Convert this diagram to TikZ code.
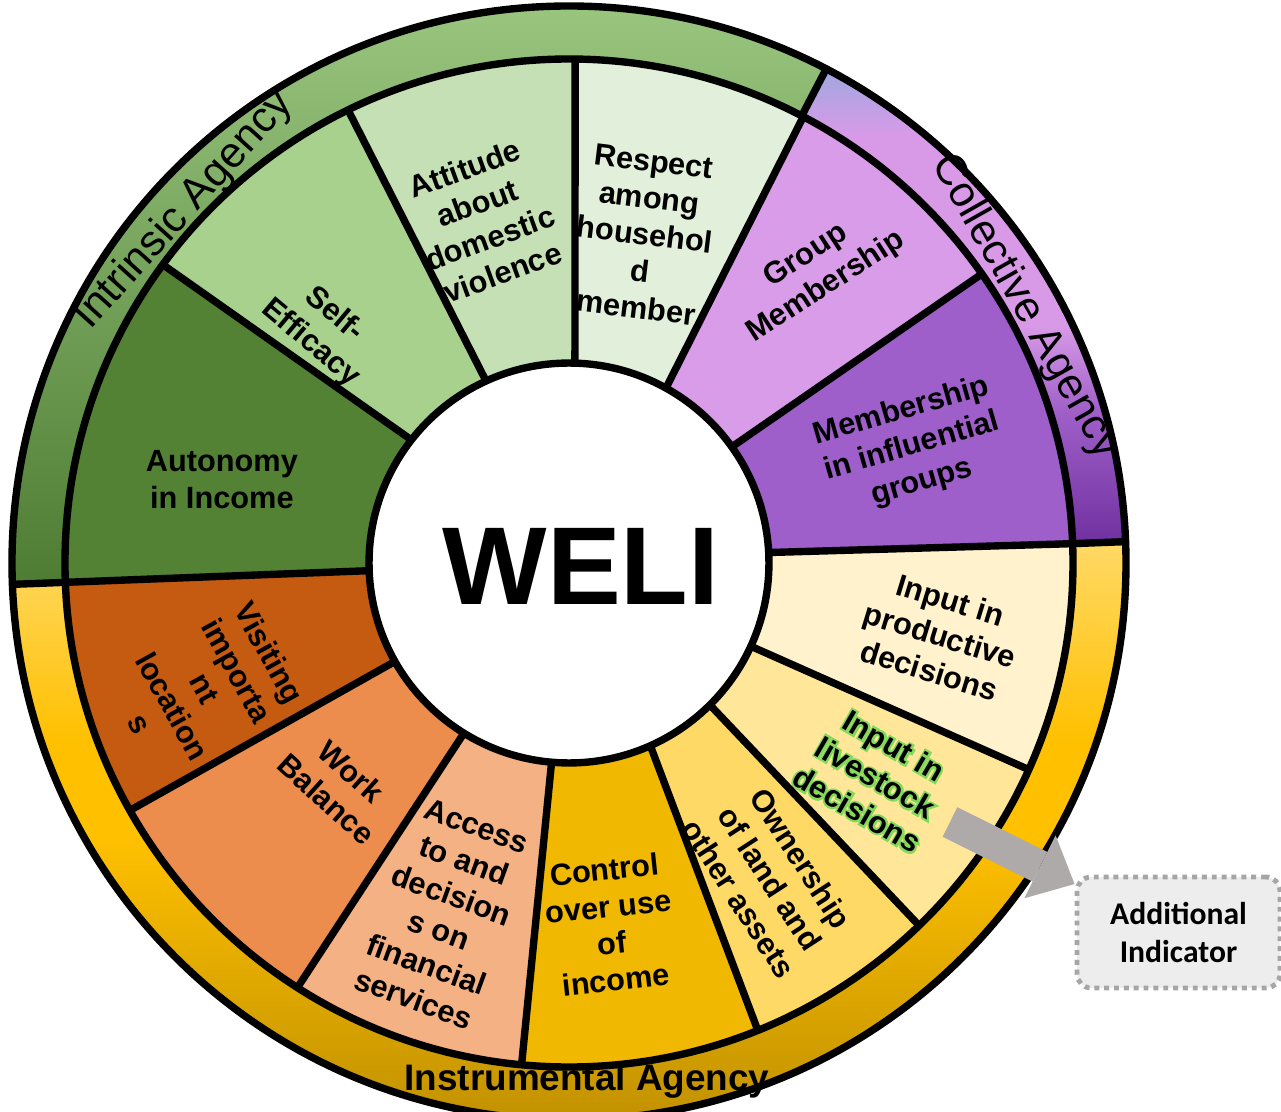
\documentclass[tikz,border=0pt]{standalone}
\usepackage{fontspec}
\setmainfont{Liberation Sans}
\newfontfamily\calibri{Carlito}
\newfontfamily\glowfont{Liberation Sans Bold}[FakeBold=13]
\usetikzlibrary{arrows.meta, positioning}

\definecolor{infl}{HTML}{9E5FCB}
\definecolor{grpmem}{HTML}{D99CE8}
\definecolor{respect}{HTML}{E2EFDA}
\definecolor{attitude}{HTML}{C5E0B4}
\definecolor{selfeff}{HTML}{A9D18E}
\definecolor{autonomy}{HTML}{548235}
\definecolor{visiting}{HTML}{C55A11}
\definecolor{workbal}{HTML}{ED8D4D}
\definecolor{access}{HTML}{F4B183}
\definecolor{control}{HTML}{F0B800}
\definecolor{ownership}{HTML}{FFD966}
\definecolor{livestock}{HTML}{FFE699}
\definecolor{productive}{HTML}{FFF2CC}
\definecolor{greentop}{HTML}{A3CF88}
\definecolor{greenmid}{HTML}{70AD47}
\definecolor{greenbot}{HTML}{4E7C33}
\definecolor{purptop}{HTML}{9FA8E0}
\definecolor{purpmid}{HTML}{D89AE7}
\definecolor{purpdeep}{HTML}{A060C8}
\definecolor{purpbot}{HTML}{7030A0}
\definecolor{yeltop}{HTML}{FFD966}
\definecolor{yelmid}{HTML}{FFC000}
\definecolor{yelbot}{HTML}{BF9000}
\definecolor{glowgreen}{HTML}{84D85A}
\definecolor{arrowgray}{HTML}{AEAAAA}
\definecolor{boxgray}{HTML}{A6A6A6}
\definecolor{boxfill}{HTML}{EDEDED}

\pgfdeclareverticalshading{purplering}{100bp}{color(0bp)=(purpbot); color(25bp)=(purpbot);
    color(39bp)=(purpdeep); color(48bp)=(purpmid); color(68bp)=(purpmid);
    color(75bp)=(purptop); color(100bp)=(purptop)}
\pgfdeclareverticalshading{yellowring}{100bp}{color(0bp)=(yelbot); color(25bp)=(yelbot);
    color(50bp)=(yelmid); color(58bp)=(yelmid); color(75bp)=(yeltop); color(100bp)=(yeltop)}

% black text with a green halo
\newcommand{\glowline}[1]{\makebox[0pt][l]{\glowfont\color{glowgreen}#1}#1}

\def\rI{200}
\def\rO{504}
\def\rR{557}

\begin{document}
\begin{tikzpicture}[x=0.02cm, y=0.02cm,
    seglabel/.style={align=center, inner sep=0pt, text=black,
        font=\bfseries\fontsize{17.5}{21}\selectfont},
    ringlabel/.style={inner sep=0pt, text=black,
        font=\fontsize{24.5}{28}\selectfont},
    wheelline/.style={draw=black, line width=4.2pt},
    addbox/.style={rectangle, rounded corners=8pt, draw=boxgray, fill=boxfill,
        line width=2.8pt, dash pattern=on 2.8pt off 2.8pt,
        minimum width=4.06cm, minimum height=2.22cm, align=center,
        font=\calibri\bfseries\fontsize{18}{21.6}\selectfont}
]

    \useasboundingbox (-569,-549) rectangle (712,563);

    % Rings ------------------------------------------------------

    \shade[top color=greentop, middle color=greenmid, bottom color=greenbot]
        (62.5:\rR) arc[start angle=62.5, end angle=182.2, radius=\rR]
        -- (182.2:\rO) arc[start angle=182.2, end angle=62.5, radius=\rO] -- cycle;
    \shade[shading=purplering]
        (2.2:\rR) arc[start angle=2.2, end angle=62.5, radius=\rR]
        -- (62.5:\rO) arc[start angle=62.5, end angle=2.2, radius=\rO] -- cycle;
    \shade[shading=yellowring]
        (182.2:\rR) arc[start angle=182.2, end angle=362.2, radius=\rR]
        -- (362.2:\rO) arc[start angle=362.2, end angle=182.2, radius=\rO] -- cycle;

    % Segments ---------------------------------------------------

    \foreach \ao/\aoo/\ai/\aii/\col in {2.2/35/3/35.5/infl, 35/62.3/35.5/61/grpmem,
        62.3/89.3/61/88.3/respect, 89.3/116/88.3/114.5/attitude,
        116/143.7/114.5/142/selfeff, 143.7/182.2/142/182.2/autonomy,
        182.2/209.4/182.2/209.5/visiting, 209.4/237.4/209.5/238.3/workbal,
        237.4/264.6/238.3/265/access, 264.6/292/265/294/control,
        292/314/294/314.8/ownership, 314/335.8/314.8/335.4/livestock,
        335.8/362.2/335.4/363/productive}
        \fill[\col] (\ao:\rO) arc[start angle=\ao, end angle=\aoo, radius=\rO]
            -- (\aii:\rI) arc[start angle=\aii, end angle=\ai, radius=\rI] -- cycle;

    % Labels -----------------------------------------------------

    \node[seglabel] (autonomy) at (166.5:357) {Autonomy\\in Income};
    \node[seglabel, rotate=-40] (selfeff) at (136.5:340) {Self-\\Efficacy};
    \node[seglabel, rotate=20] (attitude) at (104:353) {Attitude\\about\\domestic\\violence};
    \node[seglabel, rotate=-7] (respect) at (77:337) {Respect\\among\\househol\\d\\member};
    \node[seglabel, rotate=33] (group) at (49.7:382) {Group\\Membership};
    \node[seglabel, rotate=16] (influential) at (18.7:362) {Membership\\in influential\\groups};
    \node[seglabel, rotate=-17] (productive) at (-11:378) {Input in\\productive\\decisions};
    \node[seglabel, rotate=-30] (livestock) at (-35:374)
        {\glowline{Input in}\\\glowline{livestock}\\\glowline{decisions}};
    \node[seglabel, rotate=-57] (ownership) at (-57.5:374) {Ownership\\of land and\\other assets};
    \node[seglabel, rotate=6] (control) at (-83.5:364) {Control\\over use\\of\\income};
    \node[seglabel, rotate=-20] (access) at (-109.5:371) {Access\\to and\\decision\\s on\\financial\\services};
    \node[seglabel, rotate=-42] (workbal) at (-136:320) {Work\\Balance};
    \node[seglabel, rotate=-61] (visiting) at (-161:385) {Visiting\\importa\\nt\\location\\s};

    % Lines ------------------------------------------------------

    \draw[wheelline] (0,0) circle[radius=\rR];
    \draw[wheelline] (0,0) circle[radius=\rO];
    \foreach \a in {2.2, 62.5, 182.2}
        \draw[wheelline] (\a:\rO) -- (\a:\rR);
    \foreach \ao/\ai in {2.2/3, 35/35.5, 62.3/61, 89.3/88.3, 116/114.5, 143.7/142,
        182.2/182.2, 209.4/209.5, 237.4/238.3, 264.6/265, 292/294, 314/314.8, 335.8/335.4}
        \draw[wheelline] (\ai:\rI) -- (\ao:\rO);

    \node[circle, draw, fill=white, line width=4.2pt, minimum size=8cm, inner sep=0pt] (hub) at (0,0) {};
    \node[anchor=base, inner sep=0pt, font=\bfseries\fontsize{63}{63}\selectfont] (weli) at (12,-42) {WELI};

    % Ring titles ------------------------------------------------

    \node[ringlabel, rotate=48] (intrinsic) at (137.5:522) {Intrinsic Agency};
    \node[ringlabel, rotate=-60.5] (collective) at (29.3:523) {Collective Agency};
    \node[ringlabel, anchor=base, font=\bfseries\fontsize{21}{24}\selectfont] (instrumental) at (18,-527) {Instrumental Agency};

    % Additional indicator ---------------------------------------

    \node[addbox] (addl) at (609.5,-369.5) {Additional\\Indicator};
    \coordinate (arrowtail) at (381,-259);
    \draw[arrowgray, line width=18.8pt,
        -{Triangle[length=22pt, width=40pt, line width=0pt]}] (arrowtail) -- (addl.155);

\end{tikzpicture}
\end{document}
